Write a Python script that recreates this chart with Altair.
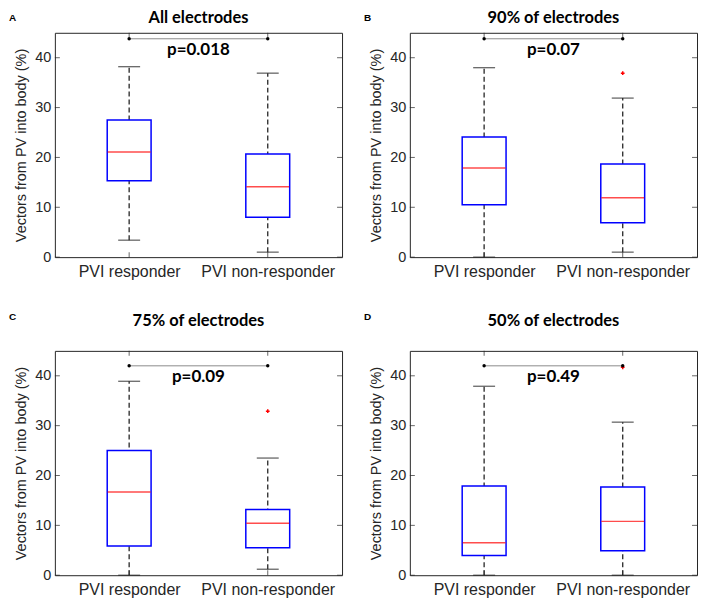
import altair as alt
import pandas as pd

panel_titles = ["All electrodes", "90% of electrodes", "75% of electrodes", "50% of electrodes"]
panel_letters = ["A", "B", "C", "D"]
groups = ["PVI responder", "PVI non-responder"]
group_pos = [1, 2]

whisker_low = [[3.4, 1.0], [0.0, 1.0], [0.0, 1.2], [0.0, 0.0]]
q1 = [[15.3, 8.0], [10.5, 6.9], [5.85, 5.5], [3.95, 4.9]]
median = [[21.1, 14.1], [17.9, 11.9], [16.7, 10.4], [6.5, 10.8]]
q3 = [[27.5, 20.7], [24.1, 18.7], [25.0, 13.2], [17.9, 17.7]]
whisker_high = [[38.2, 36.9], [38.0, 31.9], [38.9, 23.5], [37.9, 30.7]]

outlier_panel = [1, 2, 3]
outlier_pos = [2, 2, 2]
outlier_value = [36.9, 32.9, 41.7]

p_labels = ["p=0.018", "p=0.07", "p=0.09", "p=0.49"]
sig_y = [43.8, 43.8, 42.0, 42.0]

y_ticks = [0, 10, 20, 30, 40]

W, H = 288, 225
INK = "#262626"
label_expr = " : ".join(
    [f"datum.value == {p} ? '{g}'" for p, g in zip(group_pos, groups)] + ["''"]
)

x_scale = alt.Scale(domain=[0.5, 2.5], nice=False, zero=False)
y_scale = alt.Scale(domain=[0, 45], nice=False, zero=True)
x_axis = alt.Axis(values=group_pos, labelExpr=label_expr, title=None, ticks=False,
                  domain=False, grid=False, labelFontSize=16, labelFont="Liberation Sans",
                  labelColor=INK, labelPadding=6)
y_axis = alt.Axis(values=y_ticks, title="Vectors from PV into body (%)", ticks=False,
                  domain=False, grid=False, labelFontSize=14.5, labelFont="Liberation Sans",
                  labelColor=INK, labelPadding=4, titleFont="Liberation Sans",
                  titleFontSize=14.5, titleFontWeight="normal", titleColor=INK,
                  titlePadding=6)


def X(field):
    return alt.X(field, type="quantitative", scale=x_scale, axis=x_axis)


def Y(field):
    return alt.Y(field, type="quantitative", scale=y_scale, axis=y_axis)


def panel(i):
    row = i // 2
    box = pd.DataFrame({
        "pos": group_pos,
        "group": groups,
        "lo": whisker_low[i],
        "q1": q1[i],
        "med": median[i],
        "q3": q3[i],
        "hi": whisker_high[i],
    })
    base = alt.Chart(box)
    whisk = base.mark_rule(color=INK, strokeWidth=1.3, strokeDash=[5, 3]).encode(
        x=X("pos"), y=Y("lo"), y2="hi")
    caps_lo = base.mark_tick(orient="horizontal", size=22, thickness=1.3, color=INK).encode(
        x=X("pos"), y=Y("lo"))
    caps_hi = base.mark_tick(orient="horizontal", size=22, thickness=1.3, color=INK).encode(
        x=X("pos"), y=Y("hi"))
    boxes = base.mark_bar(size=44, fill="white", stroke="#0000FF", strokeWidth=1.5).encode(
        x=X("pos"), y=Y("q1"), y2="q3")
    meds = base.mark_tick(orient="horizontal", size=43, thickness=1.5, color="#FF0000").encode(
        x=X("pos"), y=Y("med"))

    out = pd.DataFrame({"panel": outlier_panel, "pos": outlier_pos, "val": outlier_value})
    out = out[out["panel"] == i]
    outl = alt.Chart(out).mark_point(shape="cross", size=14, filled=True, color="#FF0000",
                                     opacity=1).encode(x=X("pos"), y=Y("val"))

    sig = pd.DataFrame({"pos": [group_pos[0]], "pos2": [group_pos[1]], "y": [sig_y[i]],
                        "p": [p_labels[i]], "mid": [sum(group_pos) / 2]})
    sig_line = alt.Chart(sig).mark_rule(color="#8c8c8c", strokeWidth=1).encode(
        x=X("pos"), x2="pos2", y=Y("y"))
    sig_dots_df = pd.DataFrame({"pos": group_pos, "y": [sig_y[i]] * 2})
    sig_dots = alt.Chart(sig_dots_df).mark_circle(size=12, color="black", opacity=1).encode(
        x=X("pos"), y=Y("y"))
    sig_text = alt.Chart(sig).mark_text(font="Lato", fontSize=17, fontWeight="bold",
                                        color="black", baseline="middle", dy=11).encode(
        x=X("mid"), y=Y("y"), text="p:N")

    tick_df = pd.DataFrame({"t": y_ticks})
    tick_l = alt.Chart(tick_df).mark_tick(orient="horizontal", size=5, thickness=1, color=INK,
                                          xOffset=2.5).encode(x=alt.value(0), y=Y("t"))
    tick_r = alt.Chart(tick_df).mark_tick(orient="horizontal", size=5, thickness=1, color=INK,
                                          xOffset=-2.5).encode(x=alt.value(W), y=Y("t"))
    xt_df = pd.DataFrame({"pos": group_pos})
    tick_b = alt.Chart(xt_df).mark_tick(orient="vertical", size=5, thickness=1, color=INK,
                                        yOffset=-2.5).encode(x=X("pos"), y=alt.value(H))
    tick_t = alt.Chart(xt_df).mark_tick(orient="vertical", size=5, thickness=1, color=INK,
                                        yOffset=2.5).encode(x=X("pos"), y=alt.value(0))

    letter = alt.Chart(pd.DataFrame({"letter": [panel_letters[i]]})).mark_text(
        font="Liberation Sans", fontSize=10, fontWeight="bold", color="black",
        align="left", baseline="alphabetic").encode(
        x=alt.value(-46), y=alt.value(-12 if row == 0 else -31), text="letter:N")

    title = alt.Chart(pd.DataFrame({"title": [panel_titles[i]]})).mark_text(
        font="Lato", fontSize=16.5, fontWeight="bold", color="black",
        align="center", baseline="alphabetic").encode(
        x=alt.value(W / 2), y=alt.value(-10 if row == 0 else -25), text="title:N")

    return alt.layer(whisk, caps_lo, caps_hi, boxes, meds, outl, sig_line, sig_dots,
                     sig_text, tick_l, tick_r, tick_b, tick_t, letter, title).properties(
        width=W, height=H)


chart = alt.concat(*[panel(i) for i in range(4)], columns=2,
                   spacing=alt.RowColnumber(row=94, column=68),
                   bounds="flush").properties(
    padding={"left": 0, "top": 0, "right": 2, "bottom": 2},
    background="white",
).configure_view(stroke=INK, strokeWidth=1)

chart.save("out.html", embed_options={"renderer": "svg", "actions": False})
